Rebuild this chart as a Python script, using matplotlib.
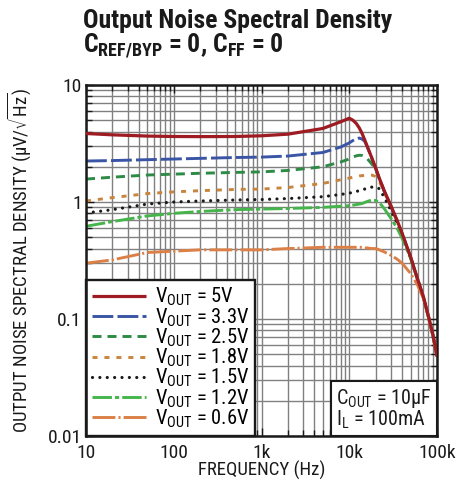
import matplotlib
matplotlib.use('Agg')
import matplotlib.pyplot as plt
from matplotlib.offsetbox import AnchoredText

plt.rcParams['font.family'] = ['Roboto Condensed', 'DejaVu Sans']
plt.rcParams['mathtext.default'] = 'regular'
plt.rcParams['lines.scale_dashes'] = False

# ---------------- data ----------------
freq = [10, 20, 50, 100, 200, 500, 1e3, 2e3, 5e3, 8e3, 1e4, 1.1e4, 1.2e4, 1.3e4,
        1.4e4, 1.5e4, 1.6e4, 1.8e4, 2e4, 2.2e4, 2.5e4, 3e4, 3.5e4, 4e4, 5e4,
        6e4, 7e4, 8e4, 9e4, 1e5]

v5_0 = [3.85, 3.75, 3.66, 3.63, 3.62, 3.63, 3.68, 3.80, 4.25, 4.85, 5.2, 5.0, 4.7, 4.3,
        3.85, 3.4, 3.0, 2.4, 1.95, 1.6, 1.25, 0.92, 0.70, 0.54, 0.34,
        0.22, 0.155, 0.105, 0.073, 0.048]
v3_3 = [2.24, 2.26, 2.30, 2.33, 2.36, 2.40, 2.42, 2.47, 2.65, 2.95, 3.2, 3.35, 3.47, 3.52,
        3.45, 3.3, 2.98, 2.38, 1.93, 1.58, 1.24, 0.91, 0.69, 0.535, 0.336,
        0.218, 0.153, 0.104, 0.072, 0.048]
v2_5 = [1.57, 1.63, 1.70, 1.73, 1.76, 1.79, 1.81, 1.86, 2.00, 2.20, 2.33, 2.42, 2.48, 2.51,
        2.50, 2.45, 2.35, 2.12, 1.90, 1.58, 1.24, 0.91, 0.69, 0.535, 0.336,
        0.218, 0.153, 0.104, 0.072, 0.048]
v1_8 = [1.02, 1.09, 1.18, 1.22, 1.25, 1.28, 1.29, 1.33, 1.44, 1.55, 1.60, 1.63, 1.65, 1.67,
        1.68, 1.69, 1.70, 1.70, 1.65, 1.50, 1.22, 0.90, 0.69, 0.535, 0.336,
        0.218, 0.153, 0.104, 0.072, 0.048]
v1_5 = [0.805, 0.86, 0.96, 1.00, 1.02, 1.04, 1.05, 1.07, 1.11, 1.16, 1.19, 1.21, 1.23, 1.25,
        1.27, 1.29, 1.31, 1.34, 1.34, 1.30, 1.10, 0.84, 0.66, 0.53, 0.336,
        0.218, 0.153, 0.104, 0.072, 0.048]
v1_2 = [0.62, 0.68, 0.76, 0.80, 0.83, 0.86, 0.87, 0.88, 0.90, 0.92, 0.93, 0.94, 0.95, 0.96,
        0.97, 0.99, 1.01, 1.04, 1.03, 0.99, 0.88, 0.72, 0.60, 0.49, 0.33,
        0.218, 0.153, 0.104, 0.072, 0.048]
v0_6 = [0.30, 0.32, 0.37, 0.38, 0.39, 0.39, 0.39, 0.40, 0.41, 0.41, 0.41, 0.41, 0.41, 0.41,
        0.41, 0.405, 0.405, 0.40, 0.40, 0.39, 0.375, 0.35, 0.325, 0.30, 0.245,
        0.195, 0.15, 0.104, 0.072, 0.048]

labels = ['5V', '3.3V', '2.5V', '1.8V', '1.5V', '1.2V', '0.6V']
xticks = [10, 100, 1e3, 1e4, 1e5]
xticklabels = ['10', '100', '1k', '10k', '100k']
yticks = [0.01, 0.1, 1, 10]
yticklabels = ['0.01', '0.1', '1', '10']

series = [v5_0, v3_3, v2_5, v1_8, v1_5, v1_2, v0_6]
colors = ['#9E1B22', '#3B55A6', '#2F8A46', '#C9843D', '#1A1A1A', '#45B54B', '#DC8047']
styles = [
    dict(ls='-', lw=2.3),
    dict(dashes=(15, 3), lw=2.1),
    dict(dashes=(6.5, 4.3), lw=2.1),
    dict(dashes=(3.6, 5), lw=2.1),
    dict(dashes=(0.01, 5.3), lw=2.3, dash_capstyle='round'),
    dict(dashes=(14, 2.2, 3, 2.2), lw=2.1),
    dict(dashes=(16.5, 2.2, 1.5, 2.2), lw=2.1),
]
zorders = [3, 2.2, 2.2, 2.2, 2.2, 2.2, 2.2]

# ---------------- figure ----------------
fig = plt.figure(figsize=(4.66, 4.91), dpi=100)
rect = [86 / 466, 1 - 436 / 491, 351 / 466, 351 / 491]

bg = fig.add_axes(rect, zorder=0)
ax = fig.add_axes(rect, zorder=1)
for a in (bg, ax):
    a.set_xscale('log')
    a.set_yscale('log')
    a.set_xlim(10, 1e5)
    a.set_ylim(0.01, 10)

bg.grid(True, which='both', color='#808080', lw=1.0)
bg.tick_params(which='both', length=0, labelbottom=False, labelleft=False)
for s in bg.spines.values():
    s.set_visible(False)

ax.set_facecolor('none')
for i, (y, lab) in enumerate(zip(series, labels)):
    ax.plot(freq, y, color=colors[i], label=r'$V_{OUT}$ = ' + lab,
            zorder=zorders[i], solid_capstyle='butt', **styles[i])

ax.set_xticks(xticks)
ax.set_xticklabels(xticklabels)
ax.set_yticks(yticks)
ax.set_yticklabels(yticklabels)
ax.tick_params(which='both', direction='in', top=True, right=True,
               labelsize=14, colors='#1a1a1a')
ax.tick_params(which='major', length=6, width=1)
ax.tick_params(which='minor', length=4, width=1)
ax.tick_params(axis='x', pad=6)
ax.tick_params(axis='y', pad=3)
for s in ax.spines.values():
    s.set_linewidth(1.8)
    s.set_color('#1a1a1a')

ax.set_xlabel('FREQUENCY (Hz)', fontsize=13.5, color='#1a1a1a')
ax.set_ylabel(r'OUTPUT NOISE SPECTRAL DENSITY (µV/$\sqrt{Hz}$)', fontsize=13.5,
              color='#1a1a1a')
ax.xaxis.set_label_coords(0.5, -0.072)
ax.yaxis.set_label_coords(-0.151, 0.5)

leg = ax.legend(loc='lower left', bbox_to_anchor=(0, 0), borderaxespad=0,
                fontsize=14.8, frameon=True, fancybox=False, edgecolor='#1a1a1a',
                framealpha=1, handlelength=2.6, handletextpad=0.45,
                labelspacing=-0.1, borderpad=0.3)
leg.get_frame().set_linewidth(1.7)
leg.set_zorder(2.4)

at = AnchoredText('$C_{OUT}$ = 10µF\n$I_{L}$ = 100mA', loc='lower right',
                  borderpad=0, pad=0.25, frameon=True,
                  prop=dict(size=14.5, linespacing=0.95, color='#1a1a1a'))
at.patch.set_boxstyle('square,pad=0')
at.patch.set_edgecolor('#1a1a1a')
at.patch.set_linewidth(1.5)
at.set_zorder(2.4)
ax.add_artist(at)

fig.text(83 / 466, 1 - 28 / 491, 'Output Noise Spectral Density', fontsize=18.5,
         fontweight='bold', ha='left', va='baseline', color='#1a1a1a')
fig.text(83 / 466, 1 - 53 / 491, r'$C_{REF/BYP}$ = 0, $C_{FF}$ = 0', fontsize=18.5,
         fontweight='bold', ha='left', va='baseline', color='#1a1a1a')

fig.savefig('out.png', dpi=100)
